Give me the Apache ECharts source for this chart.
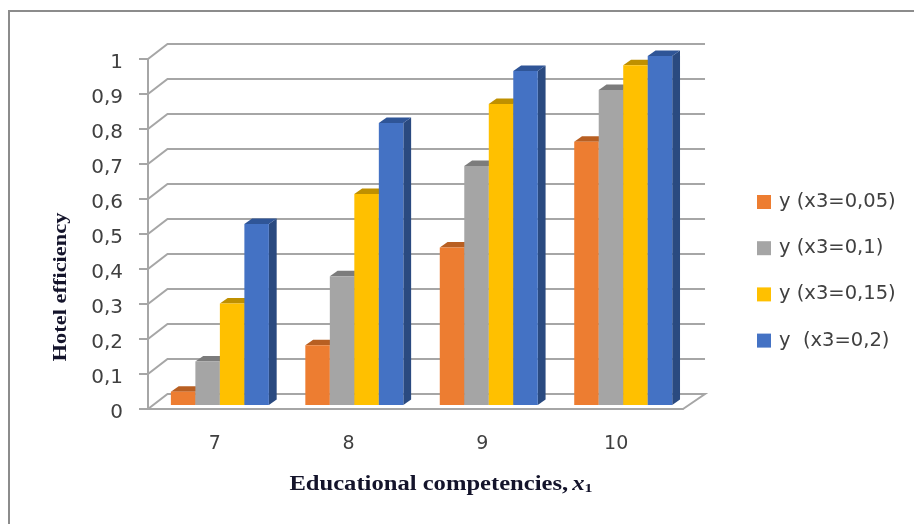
<!DOCTYPE html>
<html>
<head>
<meta charset="utf-8">
<style>html,body{margin:0;padding:0;background:#fff}#chart{width:914px;height:524px}</style>
<script src="https://cdn.jsdelivr.net/npm/echarts@6/dist/echarts.min.js"></script>
</head>
<body>
<div id="chart"></div>
<script>
// Hotel efficiency against educational competencies, grouped by x3
const categories = ['7', '8', '9', '10'];
const yTicks = [0, 0.1, 0.2, 0.3, 0.4, 0.5, 0.6, 0.7, 0.8, 0.9, 1];
const seriesNames = ['y (x3=0,05)', 'y (x3=0,1)', 'y (x3=0,15)', 'y  (x3=0,2)'];
const valuesX005 = [0.038, 0.171, 0.45, 0.752];
const valuesX01 = [0.124, 0.368, 0.683, 0.9];
const valuesX015 = [0.29, 0.603, 0.86, 0.971];
const valuesX02 = [0.517, 0.806, 0.954, 0.997];
const faceColors = ['#ED7D31', '#A5A5A5', '#FFC000', '#4472C4'];
const topColors = ['#B85F22', '#7C7C7C', '#BF9000', '#2F5597'];
const sideColors = ['#AE5A23', '#777777', '#B78A00', '#2A4A80'];

const AXIS = '#A6A6A6';
// Oblique projection of the box: the back wall sits up and to the right of the front plane
const WALL_DX = 19.5, WALL_DY = -15, WALL_RIGHT_DX = 22;
const BAR_DX = 7.8, BAR_DY = -5.5, BAR_LIFT = 4, BAR_W = 24.5;

function barSeries(values, idx) {
  return {
    type: 'custom',
    name: seriesNames[idx],
    coordinateSystem: 'cartesian2d',
    itemStyle: { color: faceColors[idx] },
    clip: false,
    z: 5,
    encode: { x: 0, y: 1 },
    data: values.map((v, i) => [i, v]),
    renderItem(params, api) {
      const cat = api.value(0);
      const top = api.coord([cat, api.value(1)]);
      const base = api.coord([cat, 0]);
      const x0 = top[0] + 5 + cat * 0.7 + (idx - 2) * BAR_W;
      const x1 = x0 + BAR_W;
      const yT = top[1] - BAR_LIFT;
      const yB = base[1] - BAR_LIFT;
      return {
        type: 'group',
        children: [
          { type: 'polygon', shape: { points: [[x1, yT], [x1 + BAR_DX, yT + BAR_DY], [x1 + BAR_DX, yB + BAR_DY], [x1, yB]] }, style: { fill: sideColors[idx] } },
          { type: 'polygon', shape: { points: [[x0, yT], [x0 + BAR_DX, yT + BAR_DY], [x1 + BAR_DX, yT + BAR_DY], [x1, yT]] }, style: { fill: topColors[idx] } },
          { type: 'rect', shape: { x: x0, y: yT, width: BAR_W, height: yB - yT }, style: { fill: faceColors[idx] } }
        ]
      };
    }
  };
}

// Gridlines running along the side wall and across the back wall
const wallSeries = {
  type: 'custom',
  coordinateSystem: 'cartesian2d',
  silent: true,
  clip: false,
  z: 1,
  encode: { x: 0, y: 1 },
  data: yTicks.map(t => [0, t]),
  renderItem(params, api) {
    const y = api.coord([0, api.value(1)])[1];
    const g = params.coordSys;
    const pts = [[g.x, y], [g.x + WALL_DX, y + WALL_DY], [g.x + g.width + WALL_RIGHT_DX, y + WALL_DY]];
    if (api.value(1) === 0) pts.push([g.x + g.width, y]);
    return { type: 'polyline', shape: { points: pts }, style: { fill: 'none', stroke: AXIS, lineWidth: 2 } };
  }
};

const titleFont = '"Liberation Serif", serif';
const chart = echarts.init(document.getElementById('chart'), null, { renderer: 'canvas' });
chart.setOption({
  animation: false,
  backgroundColor: '#fff',
  grid: { left: 148, right: 231, top: 59, bottom: 115, containLabel: false },
  xAxis: {
    type: 'category',
    data: categories,
    axisLine: { lineStyle: { color: AXIS, width: 2 } },
    axisTick: { length: 9, lineStyle: { color: AXIS, width: 2 } },
    axisLabel: { color: '#404040', fontFamily: 'DejaVu Sans', fontSize: 19, margin: 26 },
    splitLine: { show: false }
  },
  yAxis: {
    type: 'value',
    min: 0,
    max: 1,
    interval: 0.1,
    axisLine: { show: true, lineStyle: { color: AXIS, width: 2 } },
    axisTick: { show: true, length: 9, lineStyle: { color: AXIS, width: 2 } },
    axisLabel: {
      color: '#404040', fontFamily: 'DejaVu Sans', fontSize: 20, margin: 25,
      verticalAlign: 'top', lineHeight: 8,
      formatter: v => String(v).replace('.', ',')
    },
    splitLine: { show: false }
  },
  legend: {
    orient: 'vertical',
    left: 752,
    top: 187,
    icon: 'rect',
    itemWidth: 14,
    itemHeight: 14,
    itemGap: 26.2,
    data: seriesNames,
    textStyle: { color: '#404040', fontFamily: 'DejaVu Sans', fontSize: 19.5, lineHeight: 14, padding: [0, 0, 0, 3] }
  },
  graphic: [
    { type: 'rect', z: 0, shape: { x: 9, y: 11, width: 920, height: 530 }, style: { fill: 'none', stroke: '#8C8C8C', lineWidth: 2 } },
    {
      type: 'text', x: 61, y: 287, rotation: Math.PI / 2, scaleX: 1.18,
      style: { text: 'Hotel efficiency', font: 'bold 19px ' + titleFont, fill: '#14142B', textAlign: 'center', textVerticalAlign: 'middle' }
    },
    {
      type: 'text', x: 441, y: 485, scaleX: 1.23,
      style: {
        text: '{t|Educational competencies,} {x|x}{s|1}',
        textAlign: 'center', textVerticalAlign: 'middle',
        rich: {
          t: { font: 'bold 20px ' + titleFont, fill: '#14142B' },
          x: { font: 'italic bold 20px ' + titleFont, fill: '#14142B' },
          s: { font: 'bold 13px ' + titleFont, fill: '#14142B', verticalAlign: 'bottom', padding: [8, 0, 0, 0] }
        }
      }
    }
  ],
  series: [wallSeries, barSeries(valuesX005, 0), barSeries(valuesX01, 1), barSeries(valuesX015, 2), barSeries(valuesX02, 3)]
});
</script>
</body>
</html>
